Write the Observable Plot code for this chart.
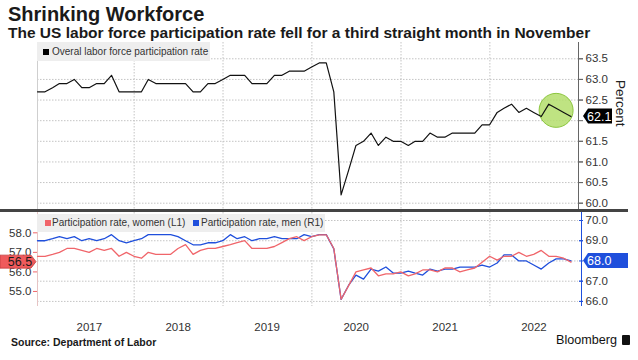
<!DOCTYPE html>
<html><head><meta charset="utf-8">
<script src="https://cdn.jsdelivr.net/npm/d3@7"></script>
<script src="https://cdn.jsdelivr.net/npm/@observablehq/plot@0.6"></script>
<style>
body{margin:0;background:#fff;}
#root{position:relative;width:638px;height:360px;overflow:hidden;font-family:"Liberation Sans",Arial,sans-serif;color:#1a1a1a;background:#fff;}
.abs{position:absolute;white-space:nowrap;}
#title{left:8px;top:4px;font-size:20px;font-weight:bold;line-height:20px;}
#subtitle{left:8px;top:24px;font-size:15.5px;font-weight:bold;line-height:17px;}
.legend{background:#eeeeee;font-size:10px;color:#333;line-height:18px;}
.sq{position:absolute;width:6px;height:6px;top:6px;}
.lt{position:absolute;top:0;}
#sep{left:0;top:209px;width:628px;height:3px;background:#444;}
#source{left:11px;top:335px;font-size:10.5px;font-weight:bold;line-height:14px;}
#bbg{left:556px;top:332px;font-size:12.6px;line-height:16px;color:#111;}
#icon{left:622px;top:335px;width:8px;height:10px;background:#111;border-radius:1px;}
</style></head><body><div id="root"></div>
<script>
// ---------------- data ----------------
const months = [
 "2016-11","2016-12",
 "2017-01","2017-02","2017-03","2017-04","2017-05","2017-06","2017-07","2017-08","2017-09","2017-10","2017-11","2017-12",
 "2018-01","2018-02","2018-03","2018-04","2018-05","2018-06","2018-07","2018-08","2018-09","2018-10","2018-11","2018-12",
 "2019-01","2019-02","2019-03","2019-04","2019-05","2019-06","2019-07","2019-08","2019-09","2019-10","2019-11","2019-12",
 "2020-01","2020-02","2020-03","2020-04","2020-05","2020-06","2020-07","2020-08","2020-09","2020-10","2020-11","2020-12",
 "2021-01","2021-02","2021-03","2021-04","2021-05","2021-06","2021-07","2021-08","2021-09","2021-10","2021-11","2021-12",
 "2022-01","2022-02","2022-03","2022-04","2022-05","2022-06","2022-07","2022-08","2022-09","2022-10","2022-11"
];
const overall = [
 62.7,62.7,
 62.8,62.9,62.9,63.0,62.8,62.8,62.9,62.9,63.1,62.7,62.7,62.7,
 62.7,63.0,62.9,62.9,62.9,62.9,62.9,62.7,62.7,62.9,62.9,63.0,
 63.1,63.1,63.1,62.9,62.9,62.9,63.1,63.1,63.2,63.2,63.2,63.3,
 63.4,63.4,62.7,60.2,60.8,61.4,61.5,61.7,61.4,61.6,61.5,61.5,
 61.4,61.5,61.5,61.7,61.6,61.6,61.7,61.7,61.7,61.7,61.9,61.9,
 62.2,62.3,62.4,62.2,62.3,62.2,62.1,62.4,62.3,62.2,62.1
];
const women = [
 56.8,56.8,
 56.9,57.0,57.2,57.2,57.1,57.0,57.2,57.1,57.2,56.8,57.0,56.8,
 56.7,57.0,56.9,56.9,56.9,57.2,57.4,56.9,57.1,57.2,57.2,57.3,
 57.4,57.5,57.6,57.2,57.2,57.2,57.3,57.5,57.7,57.8,57.6,57.8,
 57.9,57.9,57.2,54.6,55.3,56.0,56.1,56.2,55.8,55.9,55.9,56.0,
 55.8,55.9,56.1,56.1,56.0,56.2,56.2,56.0,56.1,56.2,56.5,56.8,
 56.6,56.8,56.8,57.0,56.8,56.9,57.1,56.8,56.8,56.7,56.5
];
const men = [
 69.0,69.0,
 69.1,69.2,69.1,69.2,69.0,69.1,69.0,69.1,69.3,69.0,68.9,69.0,
 69.1,69.3,69.3,69.3,69.3,69.2,69.0,68.8,68.8,68.9,68.9,69.0,
 69.3,69.1,69.2,69.0,69.1,69.1,69.2,69.1,69.1,69.1,69.3,69.2,
 69.3,69.3,68.6,66.1,66.8,67.3,67.1,67.6,67.5,67.7,67.4,67.4,
 67.5,67.4,67.3,67.6,67.5,67.6,67.6,67.7,67.7,67.7,67.8,67.7,
 67.9,68.3,68.3,68.0,68.0,67.8,67.6,67.9,68.1,68.1,68.0
];
const topTicks = [60.0,60.5,61.0,61.5,62.0,62.5,63.0,63.5];
const womenTicks = [55.0,56.0,57.0,58.0];
const menTicks = [66.0,67.0,68.0,69.0,70.0];
const yearLabels = ["2017","2018","2019","2020","2021","2022"];
const gridYears = ["2018","2019","2020","2021","2022"];
const lastOverall = 62.1, lastWomen = 56.5, lastMen = 68.0;
const highlightMonth = "2022-09", highlightValue = 62.25;
const seriesNames = {overall:"Overal labor force participation rate", women:"Participation rate, women (L1)", men:"Participation rate, men (R1)"};

// ---------------- helpers ----------------
const parseMonth = d3.utcParse("%Y-%m");
const monthEnd = s => d3.utcDay.offset(d3.utcMonth.offset(parseMonth(s), 1), -1);
const rows = months.map((m, i) => ({date: monthEnd(m), overall: overall[i], women: women[i], men: men[i]}));
const x0 = monthEnd("2016-11"), x1 = monthEnd("2022-12");
const yearStarts = gridYears.map(y => new Date(Date.UTC(+y, 0, 1)));
const yearMids = yearLabels.map(y => new Date(Date.UTC(+y, 6, 1)));
// dual axis: men (right) expressed in women (left) units
const menToW = m => 58.63 + (m - 70) * 1.035;
const wToMen = w => 70 + (w - 58.63) / 1.035;

const RED = "#f0656a", BLUE = "#1f4fdc", GRID = "#c4c4c4";
const FONT = "'Liberation Sans', Arial, sans-serif";
const NS = "http://www.w3.org/2000/svg";

// tick labels hidden behind the last-value tags in the reference
const topTickText = topTicks.filter(t => Math.abs(t - lastOverall) > 0.2);
const menTickText = menTicks.filter(t => Math.abs(t - lastMen) > 0.3);

function tag(value, label, {side, fill, stroke, color, right, h = 7.5}) {
  return (index, scales, values, dim) => {
    const y = scales.y(value);
    const g = document.createElementNS(NS, "g");
    const p = document.createElementNS(NS, "path");
    let d, tx, anchor;
    if (side === "right") {
      const tip = dim.width - dim.marginRight + 5, b = tip + 5, e = right;
      d = `M${tip},${y} L${b},${y - h} L${e},${y - h} L${e},${y + h} L${b},${y + h} Z`;
      tx = tip + 4; anchor = "start";
    } else {
      const tip = dim.marginLeft - 1, b = tip - 5, e = 0;
      d = `M${tip},${y} L${b},${y - h} L${e},${y - h} L${e},${y + h} L${b},${y + h} Z`;
      tx = 20; anchor = "middle";
    }
    p.setAttribute("d", d); p.setAttribute("fill", fill);
    if (stroke) { p.setAttribute("stroke", stroke); p.setAttribute("stroke-width", 0.8); }
    const t = document.createElementNS(NS, "text");
    t.setAttribute("x", tx); t.setAttribute("y", y); t.setAttribute("dy", "0.36em");
    t.setAttribute("fill", color); t.setAttribute("text-anchor", anchor);
    t.setAttribute("font-size", "12.5px"); t.setAttribute("font-family", FONT);
    t.textContent = label;
    g.appendChild(p); g.appendChild(t);
    return g;
  };
}

const dotted = {stroke: GRID, strokeOpacity: 1, strokeDasharray: "1.5,1.5"};

// ---------------- top panel ----------------
const topPlot = Plot.plot({
  width: 638, height: 168,
  marginLeft: 37, marginRight: 60, marginTop: 0, marginBottom: 0,
  x: {type: "utc", domain: [x0, x1], axis: null},
  y: {domain: [59.823, 63.895], axis: null, label: null},
  style: {fontFamily: FONT, fontSize: "11.5px", color: "#333", background: "transparent", overflow: "visible"},
  marks: [
    Plot.gridY(topTicks, dotted),
    Plot.gridX(yearStarts, dotted),
    Plot.ruleX([x0], {stroke: "#cfcfcf"}),
    Plot.dot([{date: monthEnd(highlightMonth), v: highlightValue}], {x: "date", y: "v", r: 17, fill: "#b4de6c", fillOpacity: 0.85, stroke: "#8cc63f", strokeWidth: 1}),
    Plot.line(rows, {x: "date", y: "overall", stroke: "#111", strokeWidth: 1.2}),
    Plot.ruleX([x1], {stroke: "#666"}),
    Plot.axisY(topTicks, {anchor: "right", tickSize: 4, tickPadding: 3, stroke: "#666", fill: "none", label: null, tickFormat: () => ""}),
    Plot.axisY(topTickText, {anchor: "right", tickSize: 4, tickPadding: 3, stroke: "#666", fill: "#333", label: null, tickFormat: d => d.toFixed(1)}),
    Plot.text(["Percent"], {frameAnchor: "right", dx: 42, rotate: 90, fontSize: 13.5, fill: "#222"}),
    tag(lastOverall, lastOverall.toFixed(1), {side: "right", fill: "#000", color: "#fff", right: 612})
  ]
});

// ---------------- bottom panel ----------------
const botPlot = Plot.plot({
  width: 638, height: 126,
  marginLeft: 37, marginRight: 60, marginTop: 2, marginBottom: 30,
  x: {type: "utc", domain: [x0, x1], axis: null},
  y: {domain: [54.23, 59.04], axis: null, label: null},
  style: {fontFamily: FONT, fontSize: "11.5px", color: "#333", background: "transparent", overflow: "visible"},
  marks: [
    Plot.gridY(menTicks.map(menToW), dotted),
    Plot.gridX(yearStarts, dotted),
    Plot.ruleX([x0], {stroke: "#e6c4c4"}),
    Plot.line(rows, {x: "date", y: d => menToW(d.men), stroke: BLUE, strokeWidth: 1.3}),
    Plot.line(rows, {x: "date", y: "women", stroke: RED, strokeWidth: 1.3}),
    Plot.ruleX([x1], {stroke: BLUE, dx: 3}),
    Plot.axisY(womenTicks, {anchor: "left", tickSize: 4, tickPadding: 2, stroke: RED, fill: "#333", label: null, tickFormat: d => d.toFixed(1)}),
    Plot.axisY(menTicks.map(menToW), {anchor: "right", tickSize: 4, tickPadding: 3, stroke: BLUE, fill: "none", label: null, tickFormat: () => ""}),
    Plot.axisY(menTickText.map(menToW), {anchor: "right", tickSize: 4, tickPadding: 3, stroke: BLUE, fill: "#333", label: null, tickFormat: w => wToMen(w).toFixed(1)}),
    Plot.axisX(yearMids, {tickSize: 0, tickPadding: 16, tickFormat: d3.utcFormat("%Y"), fill: "#333", label: null}),
    tag(lastWomen, lastWomen.toFixed(1), {side: "left", fill: "#ef5a5c", stroke: "#c43c3f", color: "#1a1a1a", h: 6.5}),
    tag(menToW(lastMen), lastMen.toFixed(1), {side: "right", fill: BLUE, color: "#fff", right: 628})
  ]
});

// ---------------- assemble ----------------
const root = document.getElementById("root");
function div(id, cls, html) { const d = document.createElement("div"); if (id) d.id = id; d.className = cls; if (html != null) d.innerHTML = html; root.appendChild(d); return d; }
div("title", "abs", "Shrinking Workforce");
div("subtitle", "abs", "The US labor force participation rate fell for a third straight month in November");
topPlot.style.position = "absolute"; topPlot.style.left = "0px"; topPlot.style.top = "42px";
root.appendChild(topPlot);
botPlot.style.position = "absolute"; botPlot.style.left = "0px"; botPlot.style.top = "210px";
root.appendChild(botPlot);
div("sep", "abs");
const lg1 = div(null, "abs legend"); Object.assign(lg1.style, {left: "37px", top: "42px", width: "173px", height: "19px", lineHeight: "19px"});
lg1.innerHTML = `<span class="sq" style="left:6px;top:6.5px;background:#000"></span><span class="lt" style="left:15px">${seriesNames.overall}</span>`;
const lg2 = div(null, "abs legend"); Object.assign(lg2.style, {left: "37px", top: "214px", width: "288px", height: "18px"});
lg2.innerHTML = `<span class="sq" style="left:8px;background:${RED}"></span><span class="lt" style="left:15px">${seriesNames.women}</span>` +
  `<span class="sq" style="left:156px;background:${BLUE}"></span><span class="lt" style="left:164px">${seriesNames.men}</span>`;
div("source", "abs", "Source: Department of Labor");
div("bbg", "abs", "Bloomberg");
div("icon", "abs");
</script>
</body></html>
